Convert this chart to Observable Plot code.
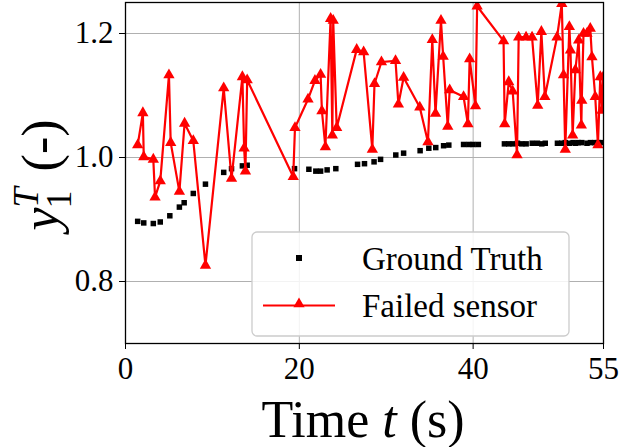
<!DOCTYPE html>
<html>
<head>
<meta charset="utf-8">
<script src="https://cdn.jsdelivr.net/npm/d3@7"></script>
<script src="https://cdn.jsdelivr.net/npm/@observablehq/plot@0.6"></script>
<style>
  html, body { margin: 0; padding: 0; background: white; }
  svg { display: block; }
</style>
</head>
<body>
<div id="chart"></div>
<script>
// Ground truth series
const gtTime = [1.4,2.1,3.2,4.0,5.1,6.2,6.75,7.8,9.2,11.3,12.2,13.45,14.0,19.45,21.1,21.9,22.45,23.2,24.2,26.7,27.5,28.6,29.35,31.1,32.0,33.9,34.9,35.7,36.6,37.2,38.9,39.5,40.0,40.6,43.6,44.1,44.6,45.1,45.6,46.1,46.8,47.4,47.9,48.3,49.7,50.2,50.6,51.1,51.5,51.8,52.1,52.5,53.1,53.5,54.0,54.4,54.8];
const gtValue = [0.897,0.8945,0.8935,0.896,0.906,0.920,0.927,0.942,0.957,0.976,0.982,0.9865,0.9875,0.982,0.981,0.978,0.978,0.980,0.982,0.989,0.990,0.993,0.997,1.004,1.007,1.011,1.015,1.016,1.019,1.020,1.021,1.021,1.021,1.021,1.022,1.022,1.022,1.023,1.022,1.022,1.023,1.023,1.022,1.023,1.023,1.023,1.024,1.023,1.024,1.023,1.024,1.024,1.023,1.024,1.024,1.024,1.024];

// Failed sensor series
const fTime = [1.4,2.0,2.1,3.2,3.4,4.0,5.0,5.2,6.2,6.8,7.8,9.2,11.3,12.2,13.45,13.65,13.8,14.0,19.3,19.5,21.0,21.8,22.45,22.6,23.0,23.6,23.8,23.9,24.3,26.6,27.4,28.4,28.65,29.45,31.07,31.4,32.0,33.86,34.8,35.3,35.67,36.3,36.55,37.08,37.3,38.9,39.4,39.6,40.27,40.46,43.5,43.63,44.1,44.55,45.05,45.24,46.09,46.78,47.43,47.85,48.25,49.65,50.2,50.4,50.6,51.07,51.2,51.45,51.76,52.14,52.45,52.5,52.7,53.1,53.48,53.67,54.05,54.36,54.63,54.83,54.97];
const fValue = [1.020,1.072,1.001,0.997,0.936,0.962,1.133,1.024,0.945,1.055,1.027,0.826,1.112,0.966,1.130,1.015,0.978,1.125,0.969,1.048,1.094,1.124,1.134,1.075,1.017,1.224,1.036,1.221,1.048,1.174,1.170,1.013,1.119,1.154,1.156,1.086,1.129,1.081,1.025,1.190,1.071,1.221,1.163,1.050,1.109,1.098,1.054,1.159,1.083,1.244,1.188,1.054,1.122,1.107,1.004,1.194,1.194,1.194,1.084,1.203,1.098,1.194,1.248,1.133,1.013,1.211,1.173,1.036,1.141,1.189,1.052,1.092,1.200,1.200,1.208,1.162,1.098,1.020,1.130,1.076,1.13];

// Axis ticks and labels
const xTicks = [0, 20, 40, 55];
const yTicks = [0.8, 1.0, 1.2];
const seriesNames = ["Ground Truth", "Failed sensor"];

const gt = gtTime.map((t, i) => ({t, v: gtValue[i]}));
const failed = fTime.map((t, i) => ({t, v: fValue[i]}));

const serif = "'Liberation Serif', 'DejaVu Serif', serif";

const chart = Plot.plot({
  width: 620,
  height: 447,
  marginLeft: 125,
  marginRight: 17,
  marginTop: 2,
  marginBottom: 104,
  x: {domain: [0, 55]},
  y: {domain: [0.7, 1.25]},
  style: {fontFamily: serif, fontSize: "31px", color: "black", background: "white", overflow: "visible"},
  marks: [
    Plot.gridX({ticks: [20, 40], stroke: "#b0b0b0", strokeOpacity: 1, strokeWidth: 1}),
    Plot.gridY({ticks: yTicks, stroke: "#b0b0b0", strokeOpacity: 1, strokeWidth: 1}),
    Plot.axisX({ticks: xTicks, tickFormat: d => String(d), tickSize: 6, tickPadding: 7, label: null, fontSize: 31}),
    Plot.axisY({ticks: yTicks, tickFormat: d3.format(".1f"), tickSize: 6, tickPadding: 6, label: null, fontSize: 31}),
    Plot.dot(gt, {x: "t", y: "v", symbol: "square", r: 3.1, fill: "black", stroke: null, clip: "frame"}),
    Plot.line(failed, {x: "t", y: "v", stroke: "red", strokeWidth: 2.2, clip: "frame"}),
    Plot.dot(failed, {x: "t", y: "v", symbol: "triangle", r: 4.2, fill: "red", stroke: null, clip: "frame"}),
    Plot.frame({stroke: "black", strokeWidth: 1.3})
  ]
});

document.getElementById("chart").appendChild(chart);

const svg = d3.select(chart);

// Legend
const lg = svg.append("g").attr("text-anchor", "start");
lg.append("rect")
  .attr("x", 252).attr("y", 232).attr("width", 317).attr("height", 104).attr("rx", 5)
  .attr("fill", "white").attr("fill-opacity", 0.85)
  .attr("stroke", "#cccccc").attr("stroke-width", 1.3);
lg.append("rect").attr("x", 296).attr("y", 255).attr("width", 6).attr("height", 6).attr("fill", "black");
lg.append("line").attr("x1", 263).attr("x2", 335).attr("y1", 305.5).attr("y2", 305.5)
  .attr("stroke", "red").attr("stroke-width", 2.2);
lg.append("path").attr("d", d3.symbol(d3.symbolTriangle, Math.PI * 4.2 * 4.2)()).attr("transform", "translate(299,304)").attr("fill", "red");
lg.selectAll("text.lab").data(seriesNames).join("text")
  .attr("class", "lab")
  .attr("x", 362).attr("y", (d, i) => 270 + i * 47)
  .attr("text-anchor", "start")
  .attr("font-family", serif).attr("font-size", 33).attr("fill", "black")
  .text(d => d);

// X axis label
const xl = svg.append("text")
  .attr("x", 363).attr("y", 437).attr("text-anchor", "middle")
  .attr("font-family", serif).attr("font-size", 52).attr("fill", "black");
xl.append("tspan").text("Time ");
xl.append("tspan").attr("font-style", "italic").text("t");
xl.append("tspan").text(" (s)");

// Y axis label
const yl = svg.append("text")
  .attr("transform", "translate(58,175) rotate(-90)")
  .attr("text-anchor", "middle")
  .attr("font-family", serif).attr("font-size", 52).attr("fill", "black");
yl.append("tspan").attr("font-style", "italic").text("y");
yl.append("tspan").attr("font-style", "italic").attr("font-size", 36).attr("dy", -20).text("T");
yl.append("tspan").attr("font-size", 36).attr("dx", -21).attr("dy", 33).text("1");
yl.append("tspan").attr("dy", -13).attr("dx", 6).text(" (-)");
</script>
</body>
</html>
